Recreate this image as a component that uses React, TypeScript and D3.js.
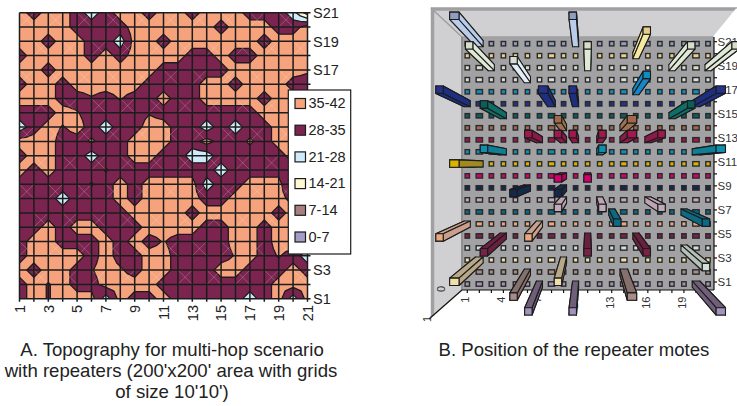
import * as d3 from "d3";

// node readings for panel A, top row (S21) to bottom row (S1), columns 1..21
const O = 38;
const M = 32;
const L = 24;
const D = 35.5; // tiny peak, draws as a dot
const E = 34.5; // just below the band edge
const topography = [
  [O, M, O, O, M, L, M, O, O, M, O, O, M, O, O, O, M, M, M, L, 10],
  [O, O, O, O, M, M, M, M, O, O, O, O, O, O, M, O, O, O, M, M, O],
  [O, O, M, O, O, M, M, L, O, O, M, O, O, O, O, O, O, M, O, O, O],
  [M, O, O, O, O, M, O, M, O, O, O, O, M, M, O, M, M, O, O, O, O],
  [O, O, M, O, O, O, O, O, O, O, M, M, M, M, M, O, O, O, O, O, 36],
  [M, O, O, M, O, O, O, O, O, M, M, M, M, O, O, M, O, O, O, M, M],
  [O, O, O, M, M, E, M, D, M, M, O, M, M, O, O, O, O, M, O, O, M],
  [M, M, M, O, D, M, M, M, M, E, M, M, M, M, M, M, M, O, O, O, O],
  [L, M, O, E, O, M, L, M, M, O, O, M, M, L, M, L, M, M, O, O, O],
  [O, O, O, M, M, 36, M, M, O, O, O, M, M, O, M, M, 36, M, O, O, M],
  [M, O, O, M, M, L, M, M, O, O, M, M, L, L, M, M, M, M, M, O, M],
  [O, M, O, M, M, M, D, M, M, M, M, M, M, M, L, M, M, M, M, M, M],
  [M, M, M, M, M, D, M, O, M, O, O, O, O, L, M, M, O, O, O, L, M],
  [M, M, M, L, M, M, M, O, M, O, O, O, O, M, M, O, O, O, O, M, M],
  [M, M, M, M, M, M, M, M, O, O, O, O, M, O, O, O, O, O, M, O, M],
  [M, M, O, M, O, O, M, M, M, O, O, O, O, M, M, O, O, M, O, O, M],
  [M, O, O, M, M, M, O, M, O, M, D, M, M, M, M, O, O, M, O, O, M],
  [M, O, O, O, O, M, O, M, M, O, O, M, M, M, M, D, O, M, D, M, L],
  [O, M, O, O, M, E, O, 36, M, O, O, M, M, M, O, O, M, M, M, O, M],
  [M, O, E, O, M, M, O, O, O, O, M, M, M, M, M, M, M, M, O, O, O],
  [M, O, E, O, O, O, L, O, M, M, O, M, M, M, M, M, L, M, O, L, O],
];
const bandThresholds = [0, 7, 14, 21, 28, 35];
const bandLabels = ["0-7", "7-14", "14-21", "21-28", "28-35", "35-42"];
const bandColors = ["#a69cc8", "#a87f7f", "#fff8d2", "#cfeaf8", "#7b2450", "#f6a27c"];
const xTickLabels = ["1", "3", "5", "7", "9", "11", "13", "15", "17", "19", "21"];
const yTickLabels = ["S21", "S19", "S17", "S3", "S1"];
const yTickRows = [0, 2, 4, 18, 20];

// panel B: mote colours per row (S21 first), plus the colour of the long bar faces
const rowColors = [
  "#8f9dc0", "#e6cf8c", "#d6ddc8", "#d8dcd6", "#0f8fc0", "#24328c", "#0a5f5c",
  "#a06a4a", "#a3174f", "#0d8fb0", "#d8b400", "#d4006e", "#17264f", "#c0aabc",
  "#0a6a88", "#e8a880", "#7a2146", "#cfe0d8", "#efe0a8", "#a88c88", "#a494bc",
];
const sideColors = [
  "#b9cdea", "#f5eaa0", "#dfe9d6", "#e2edf5", "#1488c8", "#1e2f80", "#0f6e68",
  "#a0714f", "#8a1a48", "#0f7f95", "#a08a20", "#b0005a", "#142a48", "#bda5b5",
  "#0d6a80", "#c9a08c", "#6a2040", "#b5c0b8", "#b8a888", "#86706c", "#6f5f78",
];
const repeaterCols = [1, 9, 2, 5, 0, 7, 9, 3, 8, 6, 8, 9, 3, 1, 10, 14, 17, 20, 14, 19, 17, 13, 11, 13, 15, 11, 19, 8, 5, 8, 8, 0, 6, 3, 1, 8, 5, 6, 9, 10, 11, 15, 12, 18, 10, 14, 18, 13, 19];
const repeaterRows = [0, 0, 2, 3, 5, 5, 5, 6, 7, 8, 8, 8, 9, 10, 2, 1, 2, 2, 4, 5, 6, 7, 8, 8, 8, 9, 9, 11, 12, 12, 13, 15, 15, 16, 18, 18, 19, 20, 20, 11, 13, 13, 14, 14, 16, 16, 17, 19, 20];
const wideCols = [1, 7, 13, 19];
const xLabelsB = ["1", "4", "7", "10", "13", "16", "19"];
const yLabelsB = ["S21", "S19", "S17", "S15", "S13", "S11", "S9", "S7", "S5", "S3", "S1"];

const font = "'Liberation Sans', Arial, sans-serif";
const ink = "#1c1c1c";
const range21 = d3.range(21);

// panel A
const ax = d3.scaleLinear().domain([0, 20]).range([19.5, 307.5]);
const ay = d3.scaleLinear().domain([0, 20]).range([12.7, 298.7]);

// Excel splits each cell in four around its centre, so contour on a doubled grid
const fine = d3.range(41).flatMap((j) =>
  d3.range(41).map((i) => {
    const xs = i % 2 ? [(i - 1) / 2, (i + 1) / 2] : [i / 2];
    const ys = j % 2 ? [(j - 1) / 2, (j + 1) / 2] : [j / 2];
    return d3.mean(ys.flatMap((y) => xs.map((x) => topography[y][x]))) as number;
  })
);
const contourPath = d3.geoPath(
  d3.geoTransform({
    point(x, y) {
      this.stream.point(ax((x - 0.5) / 2), ay((y - 0.5) / 2));
    },
  })
);
const bands = d3
  .contours()
  .size([41, 41])
  .thresholds(bandThresholds)(fine);

// panel B
const bx = d3.scaleLinear().domain([0, 20]).range([467.3, 708]);
const by = d3.scaleLinear().domain([0, 20]).range([43.7, 284]);
const lift = d3.scaleLinear().domain([0, 1]).range([1, 1.23]);
const vanish = [588, 165];

const project = (x: number, y: number) => {
  const k = lift(1);
  return [vanish[0] + (x - vanish[0]) * k, vanish[1] + (y - vanish[1]) * k];
};
const poly = (pts: number[][]) => d3.line()(pts as [number, number][]) + "Z";

function Bar({ col, row }: { col: number; row: number }) {
  const cx = bx(col);
  const cy = by(row);
  const hw = wideCols.includes(col) ? 3.8 : 3;
  const hh = 3;
  const base = [
    [cx - hw, cy - hh],
    [cx + hw, cy - hh],
    [cx + hw, cy + hh],
    [cx - hw, cy + hh],
  ];
  const top = base.map(([x, y]) => project(x, y));
  const faces = base
    .map((p, i) => {
      const j = (i + 1) % 4;
      const pts = [p, base[j], top[j], top[i]];
      const mx = d3.mean(pts, (d) => d[0]) as number;
      const my = d3.mean(pts, (d) => d[1]) as number;
      return { pts, dist: Math.hypot(mx - vanish[0], my - vanish[1]) };
    })
    .sort((a, b) => b.dist - a.dist);
  return (
    <g stroke={ink} strokeWidth={1.1} strokeLinejoin="round">
      {faces.map((f, i) => (
        <path key={i} d={poly(f.pts)} fill={sideColors[row]} />
      ))}
      <path d={poly(top)} fill={rowColors[row]} />
    </g>
  );
}

function PanelA() {
  return (
    <g>
      <clipPath id="gridClip">
        <rect x={ax(0)} y={ay(0)} width={ax(20) - ax(0)} height={ay(20) - ay(0)} />
      </clipPath>
      <g clipPath="url(#gridClip)">
        {bands.map((b, i) => (
          <path
            key={i}
            d={contourPath(b as any) || ""}
            fill={bandColors[i]}
            stroke={ink}
            strokeWidth={1.3}
            strokeLinejoin="round"
          />
        ))}
      </g>
      {/* faint facet diagonals */}
      <g stroke="#ffffff" strokeOpacity={0.3} strokeWidth={0.7}>
        {range21.slice(0, 20).map((r) =>
          r % 2 === 0
            ? range21.slice(0, 20).map((c) =>
                (c + r / 2) % 2 === 0 ? (
                  <g key={`${r}-${c}`}>
                    <line x1={ax(c)} y1={ay(r)} x2={ax(c + 1)} y2={ay(r + 1)} />
                    <line x1={ax(c + 1)} y1={ay(r)} x2={ax(c)} y2={ay(r + 1)} />
                  </g>
                ) : null
              )
            : null
        )}
      </g>
      <g stroke={ink} strokeWidth={1.5}>
        {range21.map((i) => (
          <line key={`v${i}`} x1={ax(i)} x2={ax(i)} y1={ay(0)} y2={ay(20) + 3} />
        ))}
        {range21.map((i) => (
          <line key={`h${i}`} x1={ax(0)} x2={ax(20) + 3} y1={ay(i)} y2={ay(i)} />
        ))}
      </g>
      <g fontFamily={font} fontSize={14.5} fill="#222">
        {yTickLabels.map((t, i) => (
          <text key={t} x={313} y={ay(yTickRows[i])} dy="0.36em">
            {t}
          </text>
        ))}
        {xTickLabels.map((t, i) => (
          <text
            key={t}
            transform={`translate(${ax(i * 2)},305) rotate(-90)`}
            textAnchor="end"
            dy="0.36em"
          >
            {t}
          </text>
        ))}
      </g>
      <rect x={288.3} y={90} width={62.4} height={164} fill="#fff" stroke={ink} strokeWidth={1.2} />
      <g fontFamily={font} fontSize={14.5} fill="#222">
        {[...bandLabels].reverse().map((t, i) => {
          const y = 103.5 + i * 26.7;
          return (
            <g key={t}>
              <rect
                x={295}
                y={y - 5}
                width={10.5}
                height={10}
                fill={[...bandColors].reverse()[i]}
                stroke={ink}
                strokeWidth={1.2}
              />
              <text x={308.5} y={y} dy="0.33em">
                {t}
              </text>
            </g>
          );
        })}
      </g>
    </g>
  );
}

function PanelB() {
  return (
    <g>
      <path d="M431,8H737L714,37H462Z" fill="#d0d0d2" />
      <path d="M431,8L462,37V290L431,318Z" fill="#d0d0d2" />
      <rect x={462} y={37} width={252} height={253} fill="#a2a2a4" />
      <path d="M432.5,316V9H737" fill="none" stroke="#a0a0a2" strokeWidth={3.5} />
      <path d="M431,8L462,37H714" fill="none" stroke="#a0a0a2" strokeWidth={1.5} />
      <path d="M462,37V290" fill="none" stroke="#8f8f91" strokeWidth={2} />
      <path d="M714,37L737,9" stroke="#ffffff" strokeWidth={2} />

      {range21.map((r) =>
        range21.map((c) => {
          const hw = wideCols.includes(c) ? 3.2 : 2.2;
          return (
            <rect
              key={`${r}-${c}`}
              x={bx(c) - hw}
              y={by(r) - 2.2}
              width={hw * 2}
              height={4.4}
              fill={rowColors[r]}
              stroke="#2a2a2a"
              strokeWidth={1.4}
            />
          );
        })
      )}

      <g stroke="#111" strokeWidth={1.2}>
        <line x1={714} x2={714} y1={37} y2={290} />
        <line x1={462} x2={714} y1={290} y2={290} />
        <line x1={462} x2={429} y1={290} y2={319} />
        {range21.map((i) => (
          <line key={`bx${i}`} x1={bx(i)} x2={bx(i)} y1={290} y2={293} />
        ))}
        {range21.map((i) => (
          <line key={`by${i}`} x1={714} x2={717} y1={by(i) - 2} y2={by(i) - 2} />
        ))}
      </g>

      <g fontFamily={font} fontSize={11} fill="#333">
        {xLabelsB.map((t, i) => (
          <text
            key={t}
            transform={`translate(${bx(i * 3) - 2},296.5) rotate(-90)`}
            textAnchor="end"
            dy="0.36em"
          >
            {t}
          </text>
        ))}
        <text transform="translate(441,289) rotate(-90)" textAnchor="middle" dy="0.36em">
          0
        </text>
        <text transform="translate(427,319) rotate(-90)" textAnchor="middle" dy="0.36em">
          1
        </text>
      </g>
      <g fontFamily={font} fontSize={11.5} fill="#333">
        {yLabelsB.map((t, i) => (
          <text key={t} x={717.5} y={by(i * 2) - 2} dy="0.36em">
            {t}
          </text>
        ))}
      </g>

      {repeaterCols.map((c, i) => (
        <Bar key={i} col={c} row={repeaterRows[i]} />
      ))}
    </g>
  );
}

export default function App() {
  return (
    <svg
      width={737}
      height={406}
      viewBox="0 0 737 406"
      style={{ position: "absolute", left: 0, top: 0, display: "block", background: "#fff" }}
    >
      <PanelA />
      <PanelB />
      <g fontFamily={font} fontSize={18.6} fill="#222" textAnchor="middle">
        <text x={172} y={356}>A. Topography for multi-hop scenario</text>
        <text x={171} y={377}>with repeaters (200'x200' area with grids</text>
        <text x={172} y={398}>of size 10'10')</text>
        <text x={574} y={356}>B. Position of the repeater motes</text>
      </g>
    </svg>
  );
}
